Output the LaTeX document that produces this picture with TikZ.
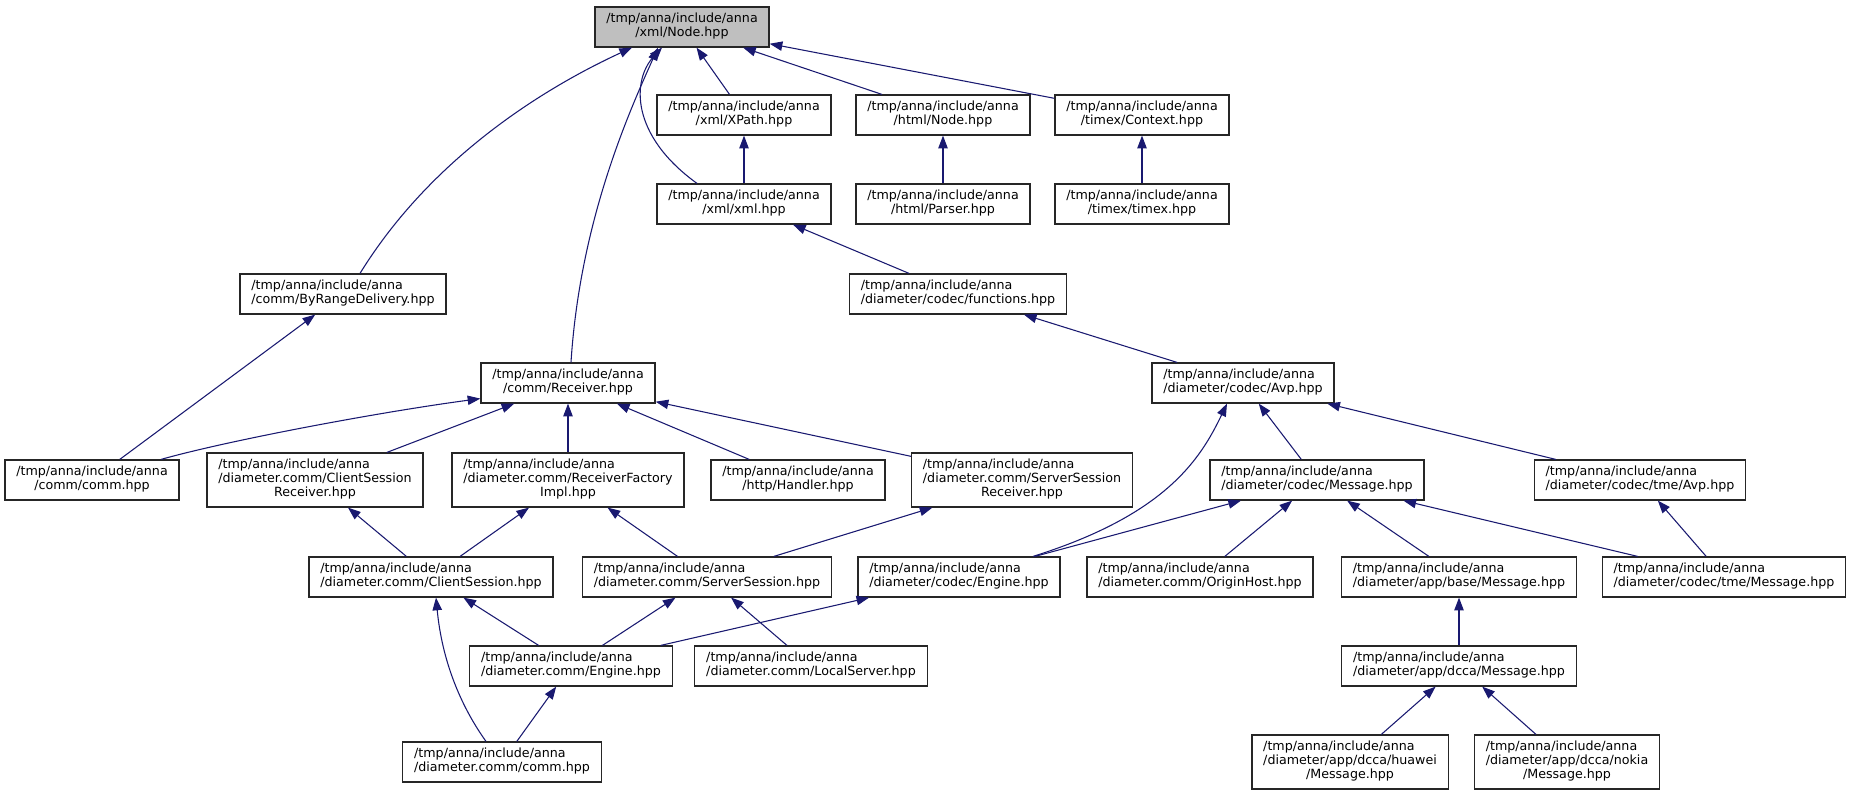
\documentclass[tikz,border=0pt]{standalone}
\usepackage{fontspec}
\setmainfont{DejaVu Sans}
\usetikzlibrary{arrows.meta,calc}
\definecolor{edgeblue}{HTML}{191970}
\definecolor{rootgray}{HTML}{BFBFBF}
\newcommand{\annapath}[1]{\begin{tabular}{@{}l@{}}/tmp/anna/include/anna\\\multicolumn{1}{@{}c@{}}{#1}\end{tabular}}
\newcommand{\annapathii}[2]{\begin{tabular}{@{}l@{}}/tmp/anna/include/anna\\#1\\\multicolumn{1}{@{}c@{}}{#2}\end{tabular}}
\begin{document}
\begin{tikzpicture}[x=0.75pt, y=-0.75pt, >={Triangle[length=9.5pt,width=7pt]},
  file/.style={draw=black!85, line width=0.9pt, fill=white, inner xsep=8.5pt, inner ysep=4.5pt,
    minimum height=30pt, font=\fontsize{9.5}{10.5}\selectfont},
  root/.style={file, fill=rootgray},
  inc/.style={draw=edgeblue, line width=0.8pt}]
  \useasboundingbox (0,0) rectangle (1853,796);
  % top rows
  \node[root] (xmlnode) at (682,27) {\annapath{/xml/Node.hpp}};
  \node[file] (xpath) at (744,115) {\annapath{/xml/XPath.hpp}};
  \node[file] (htmlnode) at (943,115) {\annapath{/html/Node.hpp}};
  \node[file] (context) at (1142,115) {\annapath{/timex/Context.hpp}};
  \node[file] (xmlh) at (744,204) {\annapath{/xml/xml.hpp}};
  \node[file] (parser) at (943,204) {\annapath{/html/Parser.hpp}};
  \node[file] (timex) at (1142,204) {\annapath{/timex/timex.hpp}};
  \node[file] (byrange) at (343,294) {\annapath{/comm/ByRangeDelivery.hpp}};
  \node[file] (functions) at (958,294) {\annapath{/diameter/codec/functions.hpp}};
  \node[file] (receiver) at (568,383) {\annapath{/comm/Receiver.hpp}};
  \node[file] (avp) at (1243,383) {\annapath{/diameter/codec/Avp.hpp}};
  % middle rows
  \node[file] (comm) at (92,480) {\annapath{/comm/comm.hpp}};
  \node[file] (csr) at (315,480) {\annapathii{/diameter.comm/ClientSession}{Receiver.hpp}};
  \node[file] (rfi) at (568,480) {\annapathii{/diameter.comm/ReceiverFactory}{Impl.hpp}};
  \node[file] (handler) at (798,480) {\annapath{/http/Handler.hpp}};
  \node[file] (ssr) at (1022,480) {\annapathii{/diameter.comm/ServerSession}{Receiver.hpp}};
  \node[file] (cmsg) at (1317,480) {\annapath{/diameter/codec/Message.hpp}};
  \node[file] (tmeavp) at (1640,480) {\annapath{/diameter/codec/tme/Avp.hpp}};
  \node[file] (csess) at (431,577) {\annapath{/diameter.comm/ClientSession.hpp}};
  \node[file] (ssess) at (707,577) {\annapath{/diameter.comm/ServerSession.hpp}};
  \node[file] (cengine) at (959,577) {\annapath{/diameter/codec/Engine.hpp}};
  \node[file] (origin) at (1200,577) {\annapath{/diameter.comm/OriginHost.hpp}};
  \node[file] (basemsg) at (1459,577) {\annapath{/diameter/app/base/Message.hpp}};
  \node[file] (tmemsg) at (1724,577) {\annapath{/diameter/codec/tme/Message.hpp}};
  % bottom rows
  \node[file] (dengine) at (571,666) {\annapath{/diameter.comm/Engine.hpp}};
  \node[file] (local) at (811,666) {\annapath{/diameter.comm/LocalServer.hpp}};
  \node[file] (dccamsg) at (1459,666) {\annapath{/diameter/app/dcca/Message.hpp}};
  \node[file] (dcomm) at (502,762) {\annapath{/diameter.comm/comm.hpp}};
  \node[file] (huawei) at (1350,762) {\annapathii{/diameter/app/dcca/huawei}{/Message.hpp}};
  \node[file] (nokia) at (1567,762) {\annapathii{/diameter/app/dcca/nokia}{/Message.hpp}};
  % straight includes
  \foreach \a/\b in {xmlnode/xpath, xmlnode/htmlnode, xmlnode/context, xpath/xmlh,
                     htmlnode/parser, context/timex, xmlh/functions, byrange/comm,
                     functions/avp, receiver/csr, receiver/rfi, receiver/handler,
                     receiver/ssr, avp/cmsg, avp/tmeavp, csr/csess, rfi/csess,
                     rfi/ssess, ssr/ssess, cmsg/cengine, cmsg/origin, cmsg/basemsg,
                     cmsg/tmemsg, tmeavp/tmemsg, csess/dengine, ssess/dengine,
                     ssess/local, cengine/dengine, dengine/dcomm, basemsg/dccamsg,
                     dccamsg/huawei, dccamsg/nokia}
    \draw[inc, <-] (\a) -- (\b);
  % curved includes
  \draw[inc, <-] ($(xmlnode.south)+(-50,0)$) .. controls (540,90) and (430,160) .. ($(byrange.north)+(17,0)$);
  \draw[inc, <-] ($(xmlnode.south)+(-24,0)$) .. controls (630,110) and (580,220) .. ($(receiver.north)+(3,0)$);
  \draw[inc, <-] ($(xmlnode.south)+(-20,0)$) .. controls (632,80) and (630,135) .. ($(xmlh.north)+(-47,0)$);
  \draw[inc, <-] ($(receiver.south west)+(0,-5)$) .. controls (380,412) and (230,440) .. ($(comm.north)+(69,0)$);
  \draw[inc, <-] ($(avp.south)+(-16,0)$) .. controls (1200,460) and (1165,515) .. ($(cengine.north)+(74,0)$);
  \draw[inc, <-] ($(csess.south)+(5,0)$) .. controls (442,660) and (460,705) .. ($(dcomm.north)+(-16,0)$);
\end{tikzpicture}
\end{document}
